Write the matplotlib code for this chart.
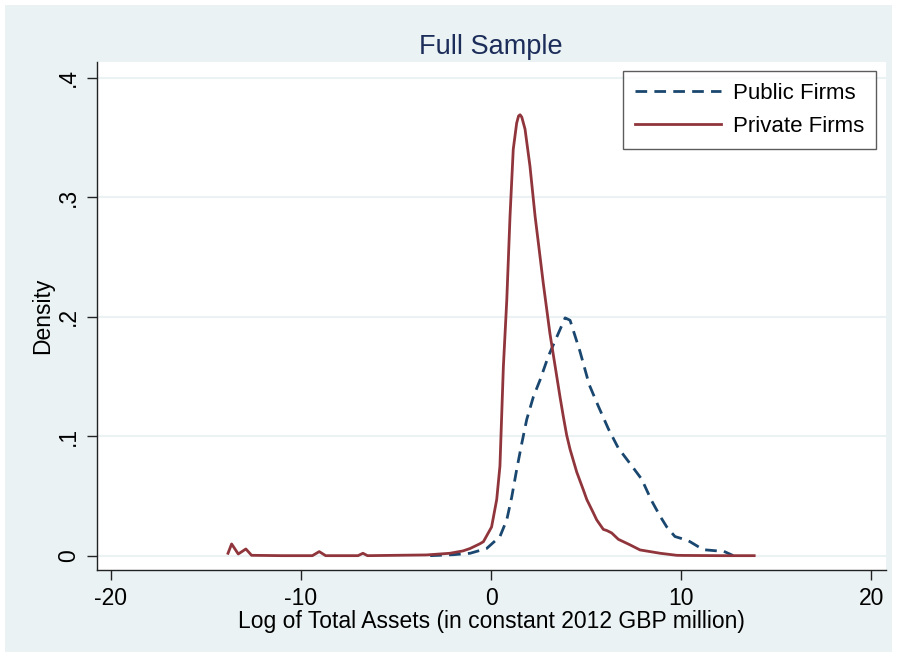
import matplotlib
matplotlib.use("Agg")
import matplotlib.pyplot as plt
from matplotlib.patches import Rectangle

plt.rcParams['font.family'] = ['Liberation Sans', 'DejaVu Sans']

# Private firms density
private_x = [-13.84, -13.65, -13.3, -12.9, -12.6, -11.0, -9.4, -9.04, -8.7, -7.0, -6.74,
             -6.5, -5.0, -3.4, -2.16, -1.47, -1.1, -0.58, -0.4, 0.03, 0.3, 0.47, 0.65,
             0.83, 1.0, 1.17, 1.35, 1.45, 1.53, 1.62, 1.79, 2.05, 2.32, 2.49, 2.75, 3.1, 3.46,
             3.63, 3.81, 3.98, 4.16, 4.51, 4.86, 5.04, 5.38, 5.56, 5.91, 6.1, 6.35,
             6.7, 7.32, 7.84, 8.9, 9.77, 10.1, 12.0, 13.85]
private_y = [0.002, 0.0098, 0.0014, 0.0056, 0.0003, 0.0, 0.0, 0.0034, 0.0, 0.0, 0.002,
             0.0, 0.0003, 0.0006, 0.002, 0.004, 0.006, 0.010, 0.0117, 0.024, 0.047, 0.075, 0.158,
             0.214, 0.284, 0.340, 0.362, 0.368, 0.369, 0.367, 0.357, 0.326, 0.284, 0.262, 0.228, 0.186, 0.150,
             0.133, 0.116, 0.101, 0.089, 0.070, 0.055, 0.047, 0.036, 0.030, 0.022, 0.021, 0.019,
             0.0137, 0.009, 0.0048, 0.002, 0.0003, 0.0002, 0.0, 0.0]

# Public firms density
public_x = [-3.2, -2.0, -1.1, -0.23, 0.47, 0.83, 1.09, 1.35, 1.62, 1.88, 2.23, 2.58,
            3.02, 3.46, 3.9, 4.16, 4.68, 5.17, 5.65, 6.18, 6.7, 7.32, 7.93, 8.45,
            8.9, 9.25, 9.68, 10.3, 10.47, 11.17, 11.9, 12.2, 12.67, 12.74]
public_y = [0.0, 0.0008, 0.002, 0.006, 0.016, 0.030, 0.049, 0.072, 0.094, 0.114, 0.133, 0.147,
            0.167, 0.183, 0.199, 0.197, 0.171, 0.143, 0.125, 0.106, 0.090, 0.077, 0.064, 0.046,
            0.033, 0.024, 0.016, 0.013, 0.0117, 0.005, 0.004, 0.004, 0.0006, 0.0]

x_ticks = [-20, -10, 0, 10, 20]
y_ticks = [0, 0.1, 0.2, 0.3, 0.4]
y_tick_labels = ['0', '.1', '.2', '.3', '.4']

bg = '#EAF2F3'
navy = '#1A476F'
maroon = '#90353B'

fig = plt.figure(figsize=(8.97, 6.57), dpi=100, facecolor='white')
fig.patches.append(Rectangle((5 / 897, 5 / 657), 887 / 897, 647 / 657,
                             transform=fig.transFigure, facecolor=bg,
                             edgecolor='none', zorder=-10))

ax = fig.add_axes([96.7 / 897, 1 - 570 / 657, (885.7 - 96.7) / 897, (570 - 62.3) / 657])
ax.set_facecolor('white')

ax.plot(public_x, public_y, color=navy, lw=2.0, dashes=(4.2, 2.6), label='Public Firms')
ax.plot(private_x, private_y, color=maroon, lw=2.0, label='Private Firms')

ax.set_xlim(-20.75, 20.77)
ax.set_ylim(-0.0120, 0.4129)

ax.set_xticks(x_ticks)
ax.set_xticklabels([str(t) for t in x_ticks])
ax.set_yticks(y_ticks)
ax.set_yticklabels(y_tick_labels, rotation=90, va='center')

for y in y_ticks:
    ax.axhline(y, color=bg, lw=1.5, zorder=0)

for s in ['top', 'right']:
    ax.spines[s].set_visible(False)
for s in ['left', 'bottom']:
    ax.spines[s].set_color('#222222')
    ax.spines[s].set_linewidth(1.0)

ax.tick_params(axis='both', direction='out', length=7, width=1, colors='#222222',
               labelsize=16.5, labelcolor='black', pad=5)

ax.set_xlabel('Log of Total Assets (in constant 2012 GBP million)', fontsize=16.5, labelpad=0)
ax.set_ylabel('Density', fontsize=16.5, labelpad=2)
ax.set_title('Full Sample', fontsize=19.5, color='#1C2D5A', pad=6)

leg = ax.legend(loc='upper right', bbox_to_anchor=((876 - 96.7) / 789, 1 - (70.7 - 62.3) / 507.7),
                frameon=True, fancybox=False, fontsize=16, handlelength=3.9,
                borderpad=0.55, labelspacing=0.55, handletextpad=0.5, borderaxespad=0)
leg.get_frame().set_edgecolor('#333333')
leg.get_frame().set_linewidth(1.0)

fig.savefig('out.png', dpi=100, facecolor=fig.get_facecolor())
